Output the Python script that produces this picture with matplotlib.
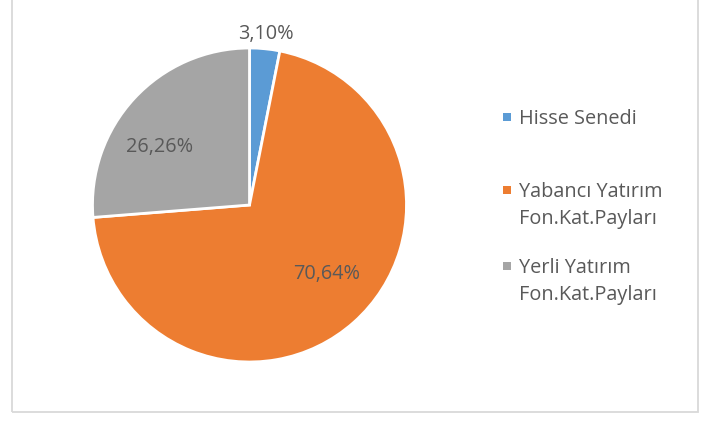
import matplotlib
matplotlib.use("Agg")
import matplotlib.pyplot as plt
from matplotlib.patches import Rectangle
from matplotlib.transforms import ScaledTranslation
import numpy as np

# data
labels = ["Hisse Senedi", "Yabancı Yatırım\nFon.Kat.Payları", "Yerli Yatırım\nFon.Kat.Payları"]
values = [3.10, 70.64, 26.26]
value_text = ["3,10%", "70,64%", "26,26%"]
colors = ["#5B9BD5", "#ED7D31", "#A5A5A5"]

# label placement (radius, angle offset in deg from wedge middle), Excel "best fit"-like
lab_r = [1.11, 0.65, 0.69]
lab_off = [0.3, 7.5, 8.7]
# legend rows (pixel y of first text line)
leg_y = [117, 190, 266]

plt.rcParams['font.family'] = ['Open Sans', 'DejaVu Sans']
txt_col = "#595959"
fs = 14.3

fig = plt.figure(figsize=(7.05, 4.21), dpi=100)
W, H = 705, 421

# chart border
fig.patches.append(Rectangle((11.5 / W, (H - 411.5) / H), 686 / W, 420 / H,
                             transform=fig.transFigure, fill=False,
                             edgecolor="#D9D9D9", linewidth=1.3))

cx, cy, r = 249.5, 205, 157
ax = fig.add_axes([(cx - r) / W, (H - cy - r) / H, 2 * r / W, 2 * r / H])
wedges, _ = ax.pie(values, colors=colors, startangle=90, counterclock=False,
                   radius=1, wedgeprops=dict(edgecolor="white", linewidth=2))
ax.set_xlim(-1, 1)
ax.set_ylim(-1, 1)

down = ScaledTranslation(0, -2.5 / 100, fig.dpi_scale_trans)
for w, t, rr, off in zip(wedges, value_text, lab_r, lab_off):
    mid = np.deg2rad((w.theta1 + w.theta2) / 2 + off)
    ax.text(rr * np.cos(mid), rr * np.sin(mid), t, ha="center", va="center",
            fontsize=fs, color=txt_col, clip_on=False, transform=ax.transData + down)

# legend drawn by hand so row gaps match
for lab, c, y in zip(labels, colors, leg_y):
    fig.patches.append(Rectangle((503 / W, (H - y - 4) / H), 8 / W, 8 / H,
                                 transform=fig.transFigure, facecolor=c, edgecolor="none"))
    fig.text(519 / W, (H - y + 8) / H, lab, ha="left", va="top", fontsize=fs,
             color=txt_col, linespacing=1.45)

fig.savefig("out.png", dpi=100)
